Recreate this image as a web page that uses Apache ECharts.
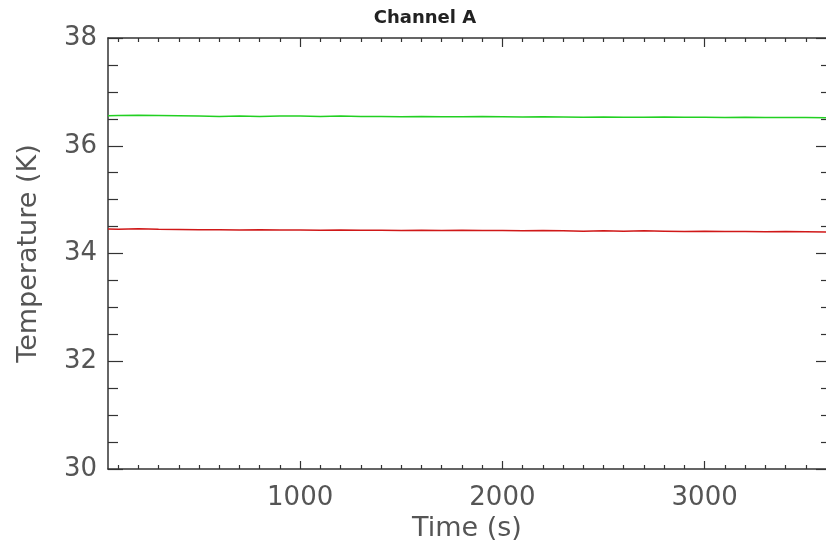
<!DOCTYPE html>
<html>
<head>
<meta charset="utf-8">
<title>Channel A</title>
<script src="https://cdn.jsdelivr.net/npm/echarts@6/dist/echarts.min.js"></script>
<style>
    html, body { margin: 0; padding: 0; background: #fff; }
    #chart { width: 826px; height: 549px; }
</style>
</head>
<body>
<div id="chart"></div>
<script>
// 数据
var times = [50, 100, 200, 300, 400, 500, 600, 700, 800, 900, 1000, 1100, 1200, 1300, 1400, 1500, 1600, 1700, 1800,
    1900, 2000, 2100, 2200, 2300, 2400, 2500, 2600, 2700, 2800, 2900, 3000, 3100, 3200, 3300, 3400, 3500, 3600];
var greenTemp = [36.555, 36.56, 36.565, 36.56, 36.555, 36.55, 36.545, 36.55, 36.545, 36.55, 36.55, 36.545, 36.55,
    36.545, 36.545, 36.54, 36.545, 36.54, 36.54, 36.545, 36.54, 36.535, 36.54, 36.535, 36.53, 36.535, 36.53, 36.53,
    36.535, 36.53, 36.53, 36.525, 36.53, 36.525, 36.525, 36.525, 36.52];
var redTemp = [34.455, 34.45, 34.46, 34.45, 34.445, 34.44, 34.44, 34.435, 34.44, 34.435, 34.435, 34.43, 34.435,
    34.43, 34.43, 34.425, 34.43, 34.425, 34.43, 34.425, 34.425, 34.42, 34.425, 34.42, 34.415, 34.42, 34.415, 34.42,
    34.415, 34.41, 34.415, 34.41, 34.41, 34.405, 34.41, 34.405, 34.40];
// 刻度
var xMajorTicks = [1000, 2000, 3000];
var xMinorTicks = [100, 200, 300, 400, 500, 600, 700, 800, 900, 1100, 1200, 1300, 1400, 1500, 1600, 1700, 1800,
    1900, 2100, 2200, 2300, 2400, 2500, 2600, 2700, 2800, 2900, 3100, 3200, 3300, 3400, 3500];

(function () {
    var myChart = echarts.init(document.getElementById("chart"));
    var axisColor = "#333";
    var textColor = "#555";
    var font = "DejaVu Sans";

    function pairs(vals) {
        return times.map(function (t, i) { return [t, vals[i]]; });
    }

    // x轴：主刻度与次刻度分开画
    function xAxisDef(pos, ticks, len, showLine, showLabel) {
        return {
            type: 'value',
            position: pos,
            min: 50,
            max: 3600,
            axisLine: { show: showLine, onZero: false, lineStyle: { color: axisColor, width: 1.5 } },
            axisTick: { show: true, inside: true, length: len, customValues: ticks,
                lineStyle: { color: axisColor, width: 1.2 } },
            axisLabel: { show: showLabel, customValues: xMajorTicks, color: textColor,
                fontFamily: font, fontSize: 26, margin: 16,
                formatter: function (v) { return String(v); } },
            splitLine: { show: false }
        };
    }

    var xBottom = xAxisDef('bottom', xMajorTicks, 8, true, true);
    xBottom.name = 'Time (s)';
    xBottom.nameLocation = 'middle';
    xBottom.nameGap = 46;
    xBottom.nameTextStyle = { color: textColor, fontFamily: font, fontSize: 27 };

    function yAxisDef(pos, major, minor, showLine, showLabel) {
        return {
            type: 'value',
            position: pos,
            min: 30,
            max: 38,
            interval: 2,
            axisLine: { show: showLine, onZero: false, lineStyle: { color: axisColor, width: 1.5 } },
            axisTick: { show: true, inside: true, length: major, lineStyle: { color: axisColor, width: 1.2 } },
            minorTick: { show: true, splitNumber: 4, length: minor, lineStyle: { color: axisColor, width: 1.2 } },
            axisLabel: { show: showLabel, color: textColor, fontFamily: font, fontSize: 26, margin: 11 },
            splitLine: { show: false },
            minorSplitLine: { show: false }
        };
    }

    var yLeft = yAxisDef('left', 15, 10, true, true);
    yLeft.name = 'Temperature (K)';
    yLeft.nameLocation = 'middle';
    yLeft.nameGap = 66;
    yLeft.nameTextStyle = { color: textColor, fontFamily: font, fontSize: 27 };

    var option = {
        animation: false,
        title: {
            text: 'Channel A',
            left: 420,
            textAlign: 'center',
            top: 4,
            textStyle: { color: '#222', fontFamily: font, fontWeight: 'bold', fontSize: 18 }
        },
        grid: {
            left: 108,
            right: -3,
            top: 38,
            bottom: 80,
            containLabel: false
        },
        xAxis: [
            xBottom,
            xAxisDef('bottom', xMinorTicks, 4, false, false),
            xAxisDef('top', xMajorTicks, 9, true, false),
            xAxisDef('top', xMinorTicks, 4, false, false)
        ],
        yAxis: [
            yLeft,
            yAxisDef('right', 10, 5, false, false)
        ],
        series: [
            {
                name: 'green',
                type: 'line',
                xAxisIndex: 0,
                yAxisIndex: 0,
                showSymbol: false,
                data: pairs(greenTemp),
                lineStyle: { color: '#22d022', width: 1.5 }
            },
            {
                name: 'red',
                type: 'line',
                xAxisIndex: 0,
                yAxisIndex: 0,
                showSymbol: false,
                data: pairs(redTemp),
                lineStyle: { color: '#d01818', width: 1.5 }
            }
        ]
    };
    myChart.setOption(option);
})();
</script>
</body>
</html>
